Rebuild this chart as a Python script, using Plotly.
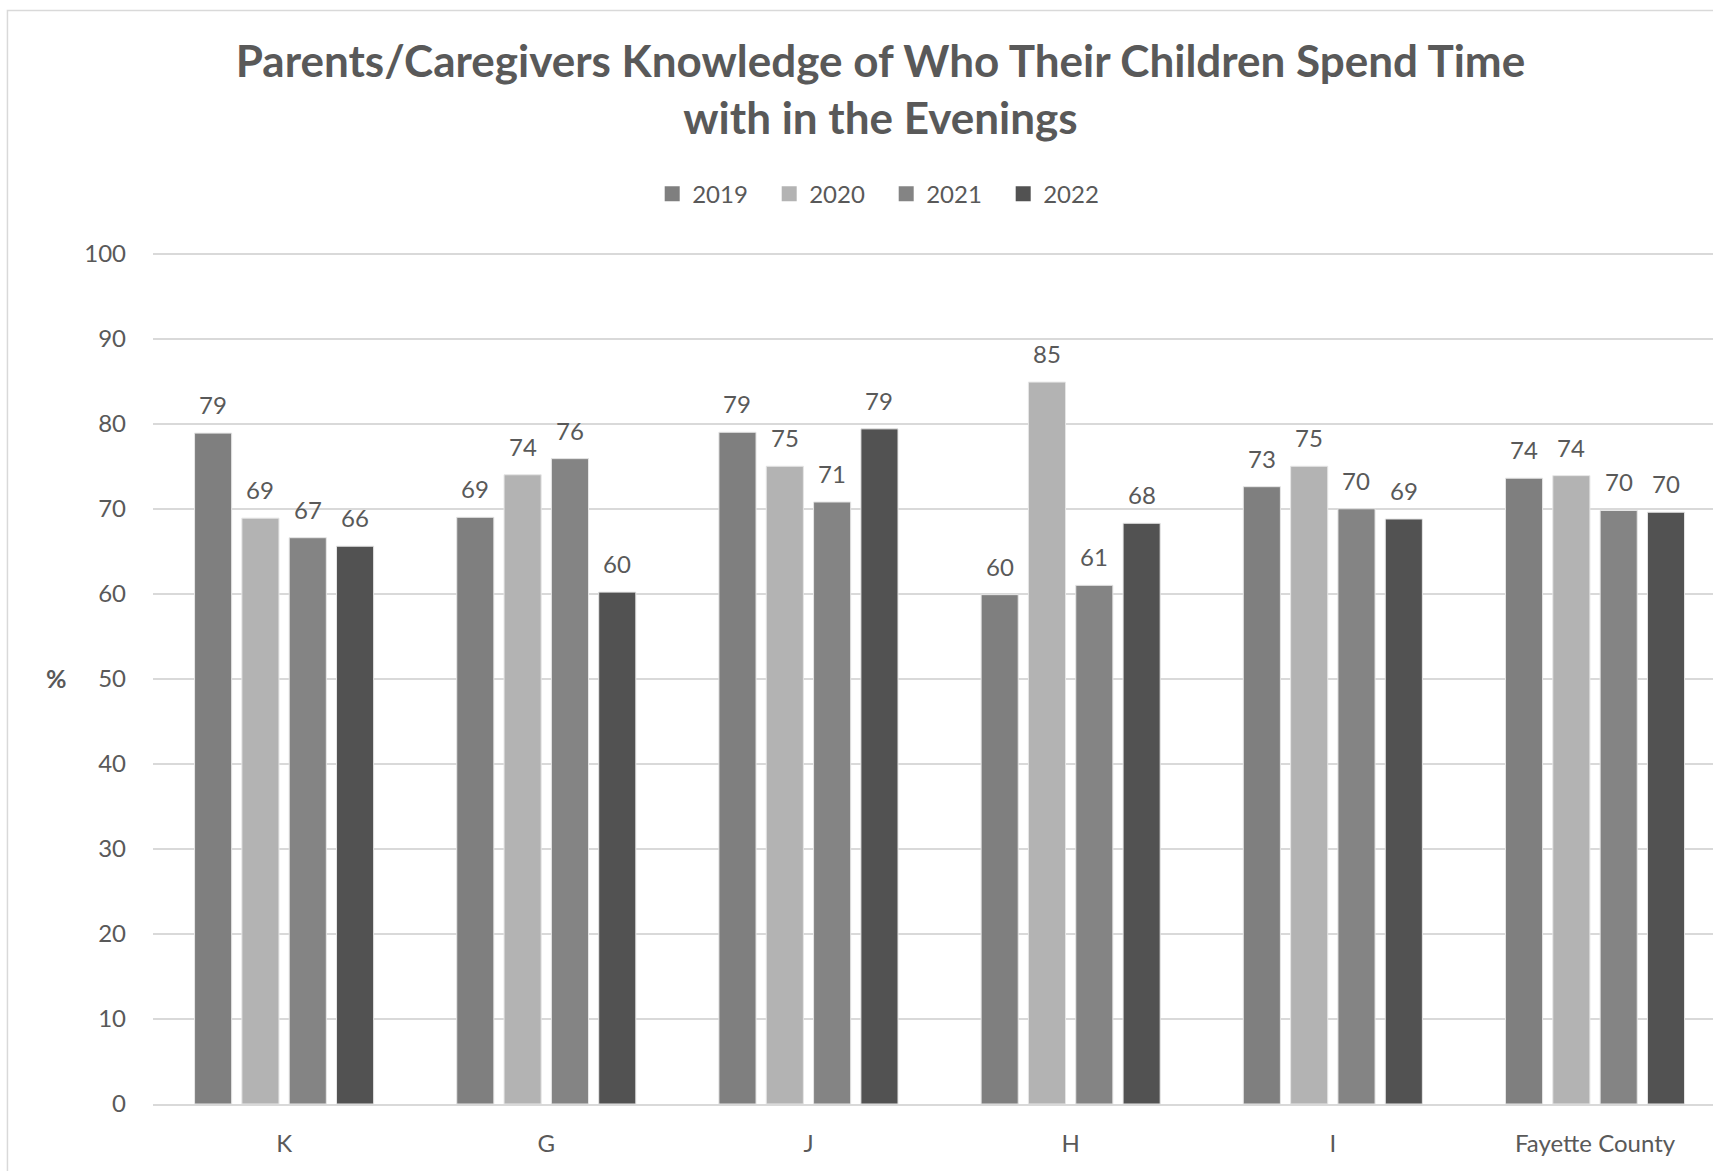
import plotly.graph_objects as go

categories = ["K", "G", "J", "H", "I", "Fayette County"]
years = ["2019", "2020", "2021", "2022"]
v2019 = [78.9, 69.0, 79.0, 59.9, 72.6, 73.6]
v2020 = [68.9, 74.0, 75.0, 84.9, 75.0, 73.9]
v2021 = [66.6, 75.9, 70.8, 61.0, 70.0, 69.8]
v2022 = [65.6, 60.2, 79.4, 68.3, 68.8, 69.6]
series = [v2019, v2020, v2021, v2022]
colors = ["#7F7F7F", "#B3B3B3", "#848484", "#525252"]
y_ticks = [0, 10, 20, 30, 40, 50, 60, 70, 80, 90, 100]

FONT = "Lato"
TXT = "#595959"
BARGAP = 0.278
BARGROUPGAP = 0.216

fig = go.Figure()
for name, vals, col in zip(years, series, colors):
    fig.add_trace(go.Bar(
        x=list(range(len(categories))), y=vals, name=name, showlegend=False,
        marker=dict(color=col, line=dict(color="#E6E6E6", width=1)),
        hoverinfo="skip",
    ))
# legend entries with square swatches
for name, col in zip(years, colors):
    fig.add_trace(go.Scatter(
        x=[None], y=[None], mode="markers", name=name,
        marker=dict(symbol="square", size=15, color=col),
    ))

# data labels
n = len(series)
slot = (1 - BARGAP) / n
for j, vals in enumerate(series):
    for i, v in enumerate(vals):
        fig.add_annotation(
            x=i + (j - (n - 1) / 2) * slot, y=v, xref="x", yref="y",
            text=f"{round(v):d}", showarrow=False, yanchor="bottom",
            yshift=12, font=dict(family=FONT, size=24, color=TXT),
        )

# y-axis title
fig.add_annotation(x=-0.062, y=0.5, xref="paper", yref="paper", text="<b>%</b>",
                   showarrow=False, xanchor="center", yanchor="middle",
                   font=dict(family=FONT, size=25, color=TXT))

# chart area border
fig.add_shape(type="rect", xref="paper", yref="paper", x0=-0.0933, x1=1.2,
              y0=-0.3, y1=1.2835, line=dict(color="#D9D9D9", width=1.5), layer="below")

fig.update_layout(
    width=1713, height=1171,
    margin=dict(l=153, r=0, t=252, b=67),
    paper_bgcolor="white", plot_bgcolor="white",
    barmode="group", bargap=BARGAP, bargroupgap=BARGROUPGAP,
    title=dict(text="<b>Parents/Caregivers Knowledge of Who Their Children Spend Time<br>with in the Evenings</b>",
               x=0.514, xanchor="center", y=0.934, yanchor="middle",
               font=dict(family=FONT, size=44, color=TXT)),
    legend=dict(orientation="h", x=0.47, xanchor="center", y=1.068, yanchor="middle",
                font=dict(family=FONT, size=24, color=TXT), entrywidth=72,
                itemwidth=30, traceorder="normal", itemsizing="trace"),
    showlegend=True,
)
fig.update_xaxes(
    tickmode="array", tickvals=list(range(len(categories))), ticktext=categories,
    range=[-0.5, 5.45], showgrid=False, showline=True, linecolor="#D9D9D9", linewidth=2,
    ticks="", tickfont=dict(family=FONT, size=24, color=TXT), ticklabelstandoff=17,
)
fig.update_yaxes(
    range=[0, 100.2], tickvals=y_ticks, showgrid=True, gridcolor="#D9D9D9", gridwidth=1.5,
    zeroline=False, showline=False, ticks="",
    tickfont=dict(family=FONT, size=24, color=TXT), ticklabelstandoff=26,
)

fig.write_html("out.html", config={"displayModeBar": False},
               post_script="document.body.style.margin='0';")
